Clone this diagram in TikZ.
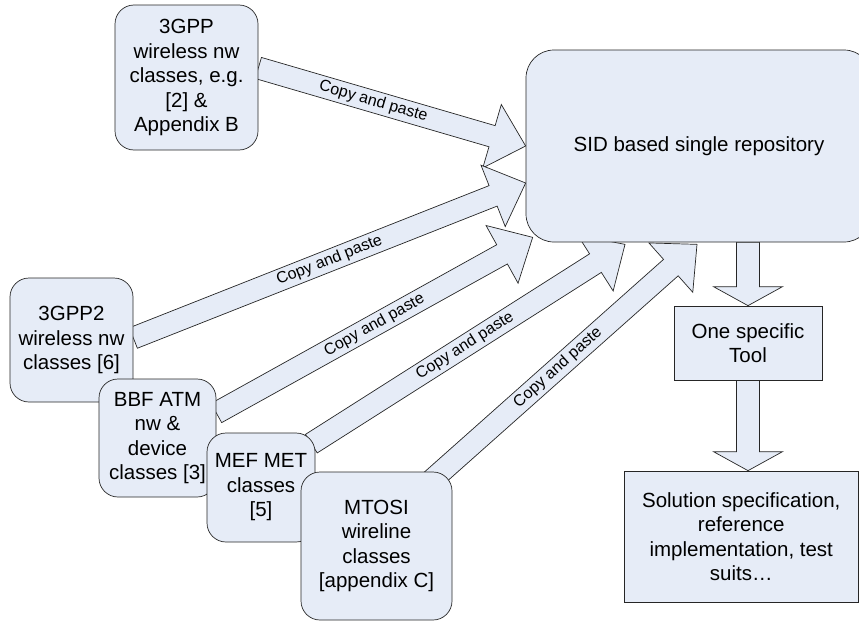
\documentclass[tikz,border=0pt]{standalone}
\usepackage{fontspec}
\setmainfont{Liberation Sans}
\usetikzlibrary{calc,backgrounds}
\definecolor{boxfill}{HTML}{E6ECF7}
\definecolor{linegray}{HTML}{262626}

\begin{document}
\begin{tikzpicture}[
  x=1pt, y=-1pt,
  box/.style={draw=linegray, fill=boxfill, line width=.7pt, align=center,
    inner sep=1pt, font=\fontsize{20.5}{24.5}\selectfont},
  soft/.style={box, rounded corners=19pt},
  cp/.style={sloped, inner sep=0pt, font=\fontsize{16}{18}\selectfont},
  blockarrow/.style n args={3}{draw=linegray, fill=boxfill, line width=.7pt,
    to path={
      ($(\tikztostart)!#1!90:(\tikztotarget)$)
      -- ($(\tikztotarget)!#3!(\tikztostart)!#1!90:(\tikztotarget)$)
      -- ($(\tikztotarget)!#3!(\tikztostart)!#2!90:(\tikztotarget)$)
      -- (\tikztotarget)
      -- ($(\tikztotarget)!#3!(\tikztostart)!#2!-90:(\tikztotarget)$)
      -- ($(\tikztotarget)!#3!(\tikztostart)!#1!-90:(\tikztotarget)$)
      -- ($(\tikztostart)!#1!-90:(\tikztotarget)$)
      -- cycle}},
  copyarrow/.style={blockarrow={11pt}{33pt}{35pt}},
  flowarrow/.style={blockarrow={11.5pt}{34.5pt}{19pt}}
]
\useasboundingbox (0,0) rectangle (859,621);

% Target side
\node[box, rounded corners=28pt, minimum width=346pt, minimum height=192pt]
  (sid) at (699,146) {SID based single repository};
\node[box, minimum width=148pt, minimum height=74pt] (tool) at (748,343)
  {One specific\\Tool};
\node[box, minimum width=234.5pt, minimum height=131pt] (sol) at (741.25,536.5)
  {Solution specification,\\reference\\implementation, test\\suits…};

% Sources (later ones overlap earlier ones)
\node[soft, minimum width=143pt, minimum height=145pt] (g3) at (186.5,77.5)
  {3GPP\\wireless nw\\classes, e.g.\\{[2] \&}\\Appendix B};
\node[soft, minimum width=123pt, minimum height=124pt] (g3b) at (71.5,340)
  {3GPP2\\wireless nw\\classes [6]};
\node[soft, minimum width=117pt, minimum height=118pt] (bbf) at (157.5,438)
  {BBF ATM\\nw \&\\device\\classes [3]};
\node[soft, minimum width=108pt, minimum height=109pt] (mef) at (261,487.5)
  {MEF MET\\classes\\{[5]}};
\node[soft, minimum width=151pt, minimum height=148pt] (mtosi) at (376.5,546)
  {MTOSI\\wireline\\classes\\{[appendix C]}};

\coordinate (t1) at ([yshift=9.5pt]g3.east);
\coordinate (t2) at ([yshift=2pt]g3b.east);
\coordinate (t3) at ([yshift=25pt]bbf.east);
\coordinate (t4) at ([shift={(-4pt,-11pt)}]mef.north east);
\coordinate (t5) at ([shift={(48pt,-15pt)}]mtosi.north);

\begin{scope}[on background layer]
% Copy and paste arrows
\draw[copyarrow] (t1) to (sid.west);
\draw[copyarrow] (t2) to ([yshift=-37pt]sid.west);
\draw[copyarrow] (t3) to ([shift={(7pt,5pt)}]sid.south west);
\draw[copyarrow] (t4) to ([shift={(-74pt,-2pt)}]sid.south);
\draw[copyarrow] (t5) to ([shift={(-2pt,-2pt)}]sid.south);
\path (t1) -- node[cp, pos=.43] {Copy and paste} (sid.west);
\path (t2) -- node[cp, pos=.5] {Copy and paste} ([yshift=-37pt]sid.west);
\path (t3) -- node[cp, pos=.5] {Copy and paste} ([shift={(7pt,5pt)}]sid.south west);
\path (t4) -- node[cp, pos=.49] {Copy and paste} ([shift={(-74pt,-2pt)}]sid.south);
\path (t5) -- node[cp, pos=.49] {Copy and paste} ([shift={(-2pt,-2pt)}]sid.south);

% Downstream flow
\draw[flowarrow] (tool.north |- sid.south) to (tool.north);
\draw[flowarrow] (tool.south) to (tool.south |- sol.north);
\end{scope}
\end{tikzpicture}
\end{document}
